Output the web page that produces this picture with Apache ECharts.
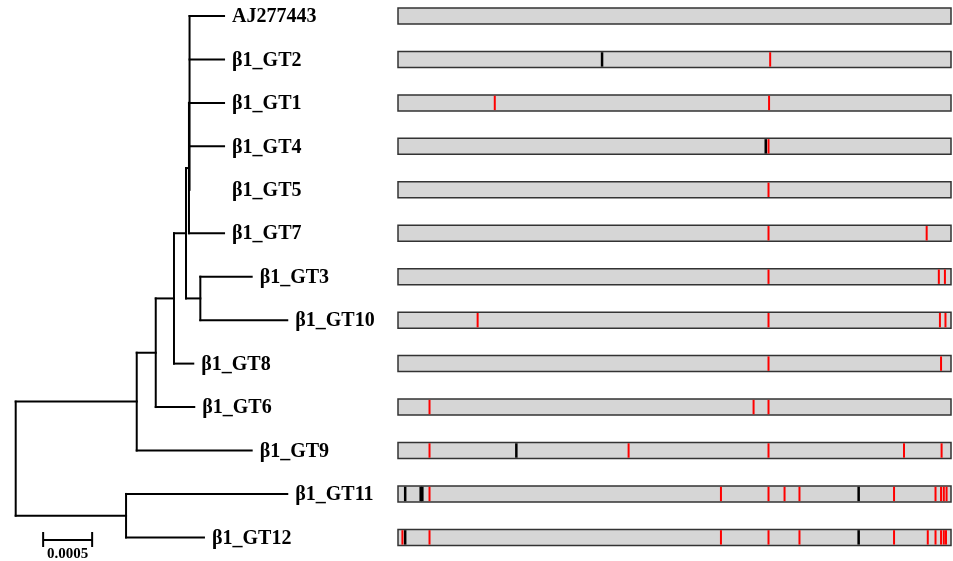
<!DOCTYPE html>
<html>
<head>
<meta charset="utf-8">
<script src="https://cdn.jsdelivr.net/npm/echarts@6/dist/echarts.min.js"></script>
<style>
html,body{margin:0;padding:0;background:#fff;}
#chart{width:953px;height:561px;}
</style>
</head>
<body>
<div id="chart"></div>
<script>
// ---------------- DATA ----------------
// Leaf taxa, top to bottom
const taxa = ['AJ277443','β1_GT2','β1_GT1','β1_GT4','β1_GT5','β1_GT7','β1_GT3','β1_GT10','β1_GT8','β1_GT6','β1_GT9','β1_GT11','β1_GT12'];
// Parent node of each taxon and its branch length (substitutions/site)
const taxonParent = ['A','A','A','A','A','D','C','C','T','S','P','Q','Q'];
const taxonBranch = [0.000352,0.000352,0.000352,0.000352,0.000352,0.000358,0.000524,0.000887,0.000197,0.000393,0.001173,0.001645,0.000795];
// Internal nodes, their parents and branch lengths
const nodeIds = ['R','P','Q','S','T','B','D','A','C'];
const nodeParent = [null,'R','R','P','S','T','B','D','B'];
const nodeBranch = [0,0.001235,0.001126,0.000194,0.000186,0.000123,0.00003,0.000006,0.000146];
// Taxa whose terminal branch is not drawn in the figure
const unlinedTaxa = ['β1_GT5'];
// Scale bar length
const scaleBarLength = 0.0005;

// Sequence bars: relative alignment positions (0–1000)
const seqLength = 1000;
const redSites = {
  'AJ277443': [],
  'β1_GT2': [673],
  'β1_GT1': [175, 671],
  'β1_GT4': [670],
  'β1_GT5': [670],
  'β1_GT7': [670, 956],
  'β1_GT3': [670, 978, 989],
  'β1_GT10': [144, 670, 980, 990],
  'β1_GT8': [670, 982],
  'β1_GT6': [57, 643, 670],
  'β1_GT9': [57, 417, 670, 915, 983],
  'β1_GT11': [57, 584, 670, 699, 726, 897, 972, 982, 987, 992],
  'β1_GT12': [8, 57, 584, 670, 726, 897, 958, 972, 982, 987, 991]
};
const blackSites = {
  'AJ277443': [],
  'β1_GT2': [369],
  'β1_GT1': [],
  'β1_GT4': [665],
  'β1_GT5': [],
  'β1_GT7': [],
  'β1_GT3': [],
  'β1_GT10': [],
  'β1_GT8': [],
  'β1_GT6': [],
  'β1_GT9': [214],
  'β1_GT11': [13, 41, 44, 833],
  'β1_GT12': [13, 833]
};

// ---------------- TREE LAYOUT ----------------
const xOf = {}, yOf = {};
function nodeDist(id) {
  if (id in xOf) return xOf[id];
  const i = nodeIds.indexOf(id);
  const p = nodeParent[i];
  xOf[id] = (p === null ? 0 : nodeDist(p)) + nodeBranch[i];
  return xOf[id];
}
nodeIds.forEach(nodeDist);
taxa.forEach((t, i) => { xOf[t] = xOf[taxonParent[i]] + taxonBranch[i]; yOf[t] = i; });
function childrenOf(id) {
  const k = [];
  taxa.forEach((t, i) => { if (taxonParent[i] === id) k.push(t); });
  nodeIds.forEach((n, i) => { if (nodeParent[i] === id) k.push(n); });
  return k;
}
function nodeY(id) {
  if (id in yOf) return yOf[id];
  const ys = childrenOf(id).map(nodeY);
  yOf[id] = (Math.min(...ys) + Math.max(...ys)) / 2;
  return yOf[id];
}
nodeIds.forEach(nodeY);

const segments = [];
taxa.forEach((t, i) => {
  if (unlinedTaxa.indexOf(t) < 0) segments.push([xOf[taxonParent[i]], yOf[t], xOf[t], yOf[t]]);
});
nodeIds.forEach((n, i) => {
  const p = nodeParent[i];
  if (p !== null) segments.push([xOf[p], yOf[n], xOf[n], yOf[n]]);
  const ys = childrenOf(n).map(c => yOf[c]);
  segments.push([xOf[n], Math.min(...ys), xOf[n], Math.max(...ys)]);
});
const tips = taxa.map(t => [xOf[t], yOf[t]]);

const marks = [];
taxa.forEach((t, i) => {
  redSites[t].forEach(p => marks.push([p, i, 0]));
  blackSites[t].forEach(p => marks.push([p, i, 1]));
});

// ---------------- CHART ----------------
const FONT = '"Liberation Serif", "Times New Roman", serif';
const chart = echarts.init(document.getElementById('chart'), null, {renderer: 'canvas'});
const rowAxis = (gi) => ({type: 'value', gridIndex: gi, min: 0, max: taxa.length - 1, inverse: true, show: false});
chart.setOption({
  animation: false,
  backgroundColor: '#ffffff',
  grid: [
    {left: 15.7, top: 16, width: 294, height: 521.4},
    {left: 398, top: 16, width: 553, height: 521.4}
  ],
  xAxis: [
    {type: 'value', gridIndex: 0, min: 0, max: 0.003, show: false},
    {type: 'value', gridIndex: 1, min: 0, max: seqLength, show: false}
  ],
  yAxis: [rowAxis(0), rowAxis(1)],
  series: [
    {
      type: 'custom', xAxisIndex: 0, yAxisIndex: 0, z: 2, silent: true,
      encode: {x: [0, 2], y: [1, 3]},
      data: segments,
      renderItem: (params, api) => {
        const a = api.coord([api.value(0), api.value(1)]);
        const b = api.coord([api.value(2), api.value(3)]);
        return {type: 'line', shape: {x1: a[0], y1: a[1], x2: b[0], y2: b[1]},
          style: {stroke: '#000', lineWidth: 2, lineCap: 'square'}};
      }
    },
    {
      type: 'custom', xAxisIndex: 0, yAxisIndex: 0, z: 3, silent: true,
      encode: {x: 0, y: 1},
      data: tips,
      renderItem: (params, api) => {
        const c = api.coord([api.value(0), api.value(1)]);
        return {type: 'text', x: c[0] + 8, y: c[1] + 1,
          style: {text: taxa[params.dataIndex], fill: '#000', font: 'bold 20px ' + FONT,
            align: 'left', verticalAlign: 'middle', textAlign: 'left', textVerticalAlign: 'middle'}};
      }
    },
    {
      type: 'custom', xAxisIndex: 0, yAxisIndex: 0, z: 3, silent: true,
      data: [[scaleBarLength]],
      renderItem: (params, api) => {
        const start = 0.00028, row = 12.06;
        const a = api.coord([start, row]);
        const b = api.coord([start + api.value(0), row]);
        const st = {stroke: '#000', lineWidth: 2};
        return {type: 'group', children: [
          {type: 'line', shape: {x1: a[0], y1: a[1], x2: b[0], y2: b[1]}, style: st},
          {type: 'line', shape: {x1: a[0], y1: a[1] - 8, x2: a[0], y2: a[1] + 7}, style: st},
          {type: 'line', shape: {x1: b[0], y1: b[1] - 8, x2: b[0], y2: b[1] + 7}, style: st},
          {type: 'text', x: (a[0] + b[0]) / 2, y: a[1] + 14,
            style: {text: String(scaleBarLength), fill: '#000', font: 'bold 15px ' + FONT,
              align: 'center', verticalAlign: 'middle', textAlign: 'center', textVerticalAlign: 'middle'}}
        ]};
      }
    },
    {
      type: 'custom', xAxisIndex: 1, yAxisIndex: 1, z: 2, silent: true,
      data: taxa.map((t, i) => [0, i, seqLength]),
      renderItem: (params, api) => {
        const a = api.coord([api.value(0), api.value(1)]);
        const b = api.coord([api.value(2), api.value(1)]);
        return {type: 'rect', shape: {x: a[0], y: a[1] - 8, width: b[0] - a[0], height: 16},
          style: {fill: '#d6d6d6', stroke: '#333', lineWidth: 1.5}};
      }
    },
    {
      type: 'custom', xAxisIndex: 1, yAxisIndex: 1, z: 3, silent: true,
      data: marks,
      renderItem: (params, api) => {
        const c = api.coord([api.value(0), api.value(1)]);
        const black = api.value(2) === 1;
        const w = black ? 2.5 : 2;
        return {type: 'rect', shape: {x: c[0] - w / 2, y: c[1] - 7.2, width: w, height: 14.4},
          style: {fill: black ? '#000' : '#ff0000'}};
      }
    }
  ]
});
</script>
</body>
</html>
